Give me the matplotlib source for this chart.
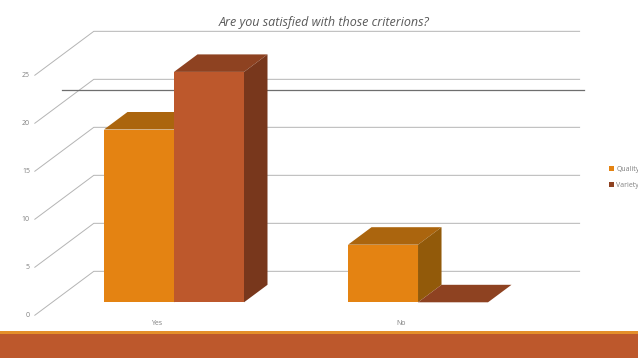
import matplotlib
matplotlib.use("Agg")
import matplotlib.pyplot as plt
from matplotlib.patches import Polygon, Rectangle

categories = ["Yes", "No"]
quality = [18, 6]
variety = [24, 0]
y_ticks = [0, 5, 10, 15, 20, 25]
y_labels = ["0", "5", "10", "15", "20", "25"]

# one unit of x = one bar width, depth 1 = depth of a bar
DX = 23.5 / 70
DV = 17.5 / 9.6
group_gap = 3.486
FRONT, BACK = -0.74, 1.77
GRID_L, GRID_R = -0.74, 6.2


def proj(x, v, d=0):
    return x + d * DX, v + d * DV


def bar3d(ax, x, v, face, top, side):
    ax.add_patch(Polygon([proj(x, v), proj(x + 1, v), proj(x + 1, v, 1), proj(x, v, 1)], fc=top, ec="none", zorder=3))
    if v > 0:
        ax.add_patch(Polygon([proj(x + 1, 0), proj(x + 1, 0, 1), proj(x + 1, v, 1), proj(x + 1, v)], fc=side, ec="none", zorder=3))
        ax.add_patch(Rectangle((x, 0), 1, v, fc=face, ec="none", zorder=3))


fig = plt.figure(figsize=(6.38, 3.59), dpi=100)
ax = fig.add_axes([0, 0, 1, 1])
ax.set_xlim(-104 / 70, 534 / 70)
ax.set_ylim(-56.7 / 9.6, 302.3 / 9.6)
ax.axis("off")

# floor / wall gridlines
for t in y_ticks:
    xs, ys = zip(proj(GRID_L, t, FRONT), proj(GRID_L, t, BACK), proj(GRID_R, t, BACK))
    ax.plot(xs, ys, color="#b4b4b4", lw=0.7, zorder=1)
for t, lab in zip(y_ticks, y_labels):
    x, y = proj(GRID_L, t, FRONT)
    ax.annotate(lab, (x, y), xytext=(-3.5, 0), textcoords="offset points", ha="right", va="center",
                fontsize=5, color="#808080", family="Open Sans")

# the stray rule across the slide
ax.plot([0.097, 0.915], [0.749, 0.749], transform=ax.transAxes, color="#6e6e6e", lw=0.9, zorder=2)

for i, cat in enumerate(categories):
    x0 = i * group_gap
    bar3d(ax, x0, quality[i], "#e48312", "#ab650e", "#925a0a")
    bar3d(ax, x0 + 1, variety[i], "#bd582c", "#8e4221", "#78371c")
    x, _ = proj(x0 + 1, 0, FRONT)
    ax.text(x, -2.2, cat, ha="center", va="center", fontsize=5, color="#808080", family="Open Sans")

ax.text(0.508, 0.9375, "Are you satisfied with those criterions?", transform=ax.transAxes, ha="center", va="center",
        fontsize=9, style="italic", color="#595959", family="Open Sans")

h1 = Rectangle((0, 0), 1, 1, fc="#e48312")
h2 = Rectangle((0, 0), 1, 1, fc="#8e4221")
ax.legend([h1, h2], ["Quality", "Variety"], loc="center left", bbox_to_anchor=(0.955, 0.505), frameon=False,
          handlelength=0.7, handleheight=0.7, handletextpad=0.3, labelspacing=1.3, borderpad=0, borderaxespad=0,
          prop={"family": "Open Sans", "size": 5}, labelcolor="#808080")

# slide footer
fig.patches.append(Rectangle((0, 24 / 359), 1, 4 / 359, transform=fig.transFigure, fc="#e48f2a", ec="none"))
fig.patches.append(Rectangle((0, 1 / 359), 1, 24 / 359, transform=fig.transFigure, fc="#bd582c", ec="none"))

fig.savefig("out.png", dpi=100)
